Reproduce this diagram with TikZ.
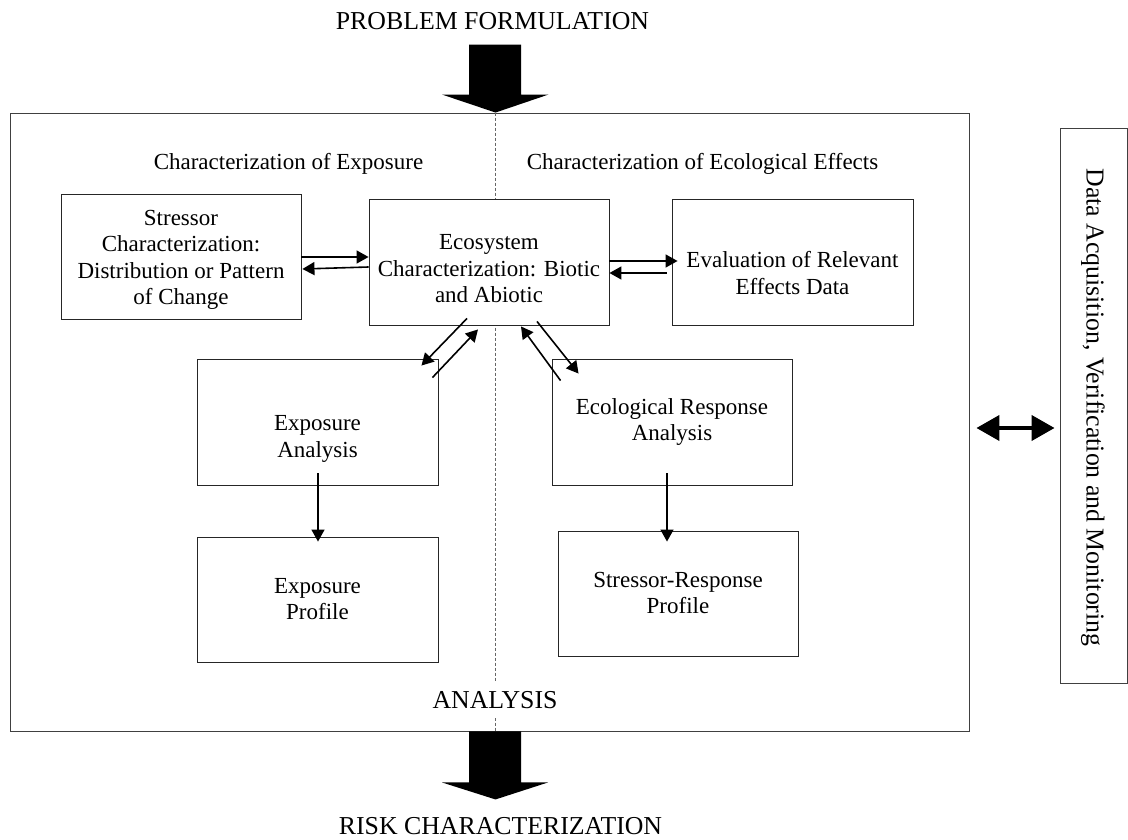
\documentclass[tikz,border=0pt]{standalone}
\usepackage{fontspec}
\setmainfont{Liberation Serif}
\usetikzlibrary{arrows.meta,calc}
\begin{document}
\begin{tikzpicture}[x=1pt,y=-1pt,
  bx/.style={draw=black!85, line width=0.9pt, fill=white, inner sep=0pt},
  txt/.style={font=\fontsize{23}{26.5}\selectfont, align=center, inner sep=0pt},
  caps/.style={font=\fontsize{25.8}{30}\selectfont, inner sep=0pt},
  thinarrow/.style={line width=1.6pt, -{Triangle[length=12pt,width=13pt]}},
  fatdbl/.style={line width=4pt, {Triangle[length=23pt,width=25pt]}-{Triangle[length=23pt,width=25pt]}},
  fatarrow/.style={fill=black, draw=none},
  divider/.style={draw=black!60, line width=0.7pt, dash pattern=on 3pt off 2pt}
]
\useasboundingbox (0,0) rectangle (1128,840);

% main frame and side box
\node[draw=black!75, line width=0.9pt, inner sep=0pt, minimum width=959pt, minimum height=618pt] (main) at (489.5,422) {};
\node[draw=black!75, line width=0.9pt, inner sep=0pt, minimum width=67pt, minimum height=555pt] (rbox) at (1093.5,405.5) {};
\node[caps, rotate=-90] (rtext) at (1093,407.5) {Data Acquisition, Verification and Monitoring};

% divider
\draw[divider] ($(main.north)+(5.5,0)$) -- ($(main.south)+(5.5,0)$);

% titles
\node[caps] (pf) at (492.5,21.5) {PROBLEM FORMULATION};
\node[caps, fill=white, inner xsep=3pt, inner ysep=9pt] (an) at (495,700) {ANALYSIS};
\node[caps] (rc) at (500.5,826.5) {RISK CHARACTERIZATION};
\node[txt] (h1) at (288.5,164) {Characterization of Exposure};
\node[txt] (h2) at (702.5,164) {Characterization of Ecological Effects};

% boxes
\node[bx, minimum width=240pt, minimum height=125pt] (stress) at (181,256.5) {};
\node[bx, minimum width=240pt, minimum height=126pt] (eco) at (489,262) {};
\node[bx, minimum width=241pt, minimum height=126pt] (eval) at (792.5,262) {};
\node[bx, minimum width=241pt, minimum height=126pt] (expA) at (317.5,422) {};
\node[bx, minimum width=240pt, minimum height=126pt] (ecoR) at (672,422) {};
\node[bx, minimum width=241pt, minimum height=125pt] (expP) at (317.5,599.5) {};
\node[bx, minimum width=240pt, minimum height=125pt] (srP) at (678,593.5) {};

% box texts
\node[txt] (stressT) at (181,260) {Stressor\\Characterization:\\Distribution or Pattern\\of Change};
\node[txt] (ecoT) at (489,269) {Ecosystem\\Characterization: Biotic\\and Abiotic};
\node[txt] (evalT) at (792.5,273) {Evaluation of Relevant\\Effects Data};
\node[txt] (expAT) at (317.5,439) {Exposure\\Analysis};
\node[txt] (ecoRT) at (672,422) {Ecological Response\\Analysis};
\node[txt] (expPT) at (317.5,599) {Exposure\\Profile};
\node[txt] (srPT) at (678,593) {Stressor-Response\\Profile};

% fat arrows
\fill[fatarrow] ($(main.north)+(6,0)$) -- ++(-53.5,-18) -- ++(27,0) -- ++(0,-50) -- ++(52,0) -- ++(0,50) -- ++(27.5,0) -- cycle;
\fill[fatarrow] ($(main.south)+(-20.5,0)$) -- ++(52,0) -- ++(0,51) -- ++(27,0) -- ++(-52.5,17) -- ++(-53.5,-17) -- ++(27,0) -- cycle;
\draw[fatdbl] ($(main.east)+(7,6)$) -- ($(rbox.west)+(-5,22.5)$);

% thin arrows
\draw[thinarrow] ($(stress.east)+(0,0.5)$) -- ($(eco.west)+(0,-5)$);
\draw[thinarrow] ($(eco.west)+(0,5)$) -- ($(stress.east)+(1,12.5)$);
\draw[thinarrow] ($(eco.east)+(0,-1)$) -- ($(eval.west)+(6,-1)$);
\draw[thinarrow] ($(eval.west)+(-5,11)$) -- ($(eco.east)+(0,11)$);
\draw[thinarrow] ($(eco.south)+(-22,-7)$) -- ($(expA.north east)+(-17,7)$);
\draw[thinarrow] ($(expA.north east)+(-6,19)$) -- ($(eco.south)+(-11,4)$);
\draw[thinarrow] ($(ecoR.north west)+(9,22)$) -- ($(eco.south)+(32,1)$);
\draw[thinarrow] ($(eco.south)+(48,-4)$) -- ($(ecoR.north west)+(27,15)$);
\draw[thinarrow] ($(expA.south)+(0.5,-12)$) -- ($(expP.north)+(0.5,5)$);
\draw[thinarrow] ($(ecoR.south)+(-5,-12)$) -- ($(srP.north)+(-11,11)$);
\end{tikzpicture}
\end{document}
